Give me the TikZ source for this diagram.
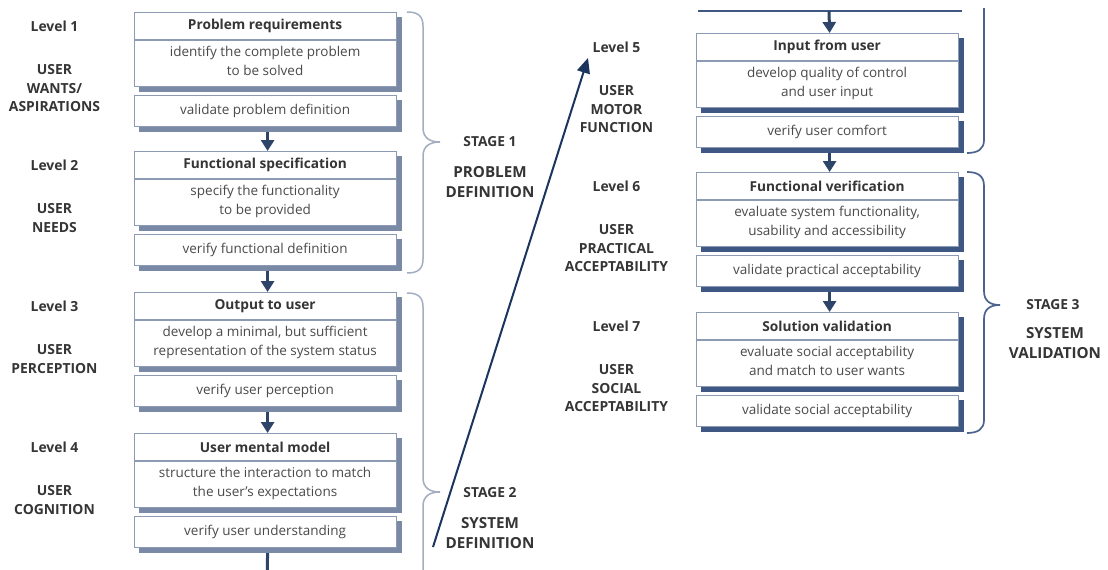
\documentclass[tikz,border=0pt]{standalone}
\usepackage{fontspec}
\setmainfont{Open Sans}
\usetikzlibrary{arrows.meta,backgrounds,calc}
\definecolor{txt}{HTML}{353535}
\definecolor{desctxt}{HTML}{4A4A4A}
\definecolor{boxline}{HTML}{8C9AB3}
\definecolor{shadL}{HTML}{7A89A6}
\definecolor{shadR}{HTML}{3F5783}
\definecolor{arrowcol}{HTML}{2E4468}
\definecolor{braceL}{HTML}{A3AEC2}
\definecolor{braceR}{HTML}{4C6390}
\definecolor{longcol}{HTML}{1B355E}
\tikzset{
  box/.style={draw=boxline, line width=1.2pt, fill=white, minimum width=262pt,
    inner sep=0pt, align=center, text=desctxt, font=\fontsize{13.5}{18.5}\selectfont},
  titlebox/.style={box, minimum height=27pt, text=txt, font=\bfseries\fontsize{13.7}{18}\selectfont},
  descbox/.style={box, minimum height=46pt,
    execute at begin node={\rule{0pt}{10.5pt}},
    execute at end node={\rule[-5.5pt]{0pt}{5.5pt}}},
  valbox/.style={box, minimum height=31pt},
  lvllab/.style={inner sep=0pt, text=txt, font=\bfseries\fontsize{13.9}{18}\selectfont},
  userlab/.style={inner sep=0pt, align=center, text=txt, font=\bfseries\fontsize{13.9}{18.6}\selectfont},
  stagelab/.style={inner sep=0pt, text=txt, font=\bfseries\fontsize{13.8}{18}\selectfont},
  stagetitle/.style={inner sep=0pt, align=center, text=txt, font=\bfseries\fontsize{15.2}{20}\selectfont},
  flow/.style={draw=arrowcol, line width=3pt, -{Triangle[length=11pt,width=13pt]}},
  longarrow/.style={draw=longcol, line width=2pt, -{Triangle[length=15pt,width=13pt]}},
  bracel/.style={draw=braceL, line width=1.5pt},
  bracer/.style={draw=braceR, line width=1.7pt}
}
\newcommand{\lvlblock}[9]{%
  \node[titlebox, anchor=north west] (#1t) at (#2,#3) {#4};
  \node[descbox, anchor=north] (#1d) at (#1t.south) {#5};
  \node[valbox, anchor=north] (#1v) at ([yshift=-7.5pt]#1d.south) {#6};
  \begin{scope}[on background layer]
    \fill[#7] ([shift={(5pt,-5pt)}]#1t.north west) rectangle ([shift={(5pt,-5pt)}]#1d.south east);
    \fill[#7] ([shift={(5pt,-5pt)}]#1v.north west) rectangle ([shift={(5pt,-5pt)}]#1v.south east);
  \end{scope}
  \node[lvllab] (#1l) at ({#2-79},{#3+14}) {#8};
  \node[userlab, anchor=north] (#1u) at ({#2-79},{#3+52.3}) {#9};
}
\begin{document}
\begin{tikzpicture}[x=1pt,y=-1pt]
\path[use as bounding box] (0,0) rectangle (1108,570);
\begin{scope}[on background layer]
  \fill[white] (0,0) rectangle (1108,570);
\end{scope}
\clip (0,0) rectangle (1108,570);

% left column
\lvlblock{A}{133.5}{12}{Problem requirements}{identify the complete problem\\to be solved}{validate problem definition}{shadL}{Level 1}{USER\\WANTS/\\ASPIRATIONS}
\lvlblock{B}{133.5}{151}{Functional specification}{specify the functionality\\to be provided}{verify functional definition}{shadL}{Level 2}{USER\\NEEDS}
\lvlblock{C}{133.5}{292}{Output to user}{develop a minimal, but sufficient\\representation of the system status}{verify user perception}{shadL}{Level 3}{USER\\PERCEPTION}
\lvlblock{D}{133.5}{433}{User mental model}{structure the interaction to match\\the user's expectations}{verify user understanding}{shadL}{Level 4}{USER\\COGNITION}

% right column
\lvlblock{E}{695.5}{33}{Input from user}{develop quality of control\\and user input}{verify user comfort}{shadR}{Level 5}{USER\\MOTOR\\FUNCTION}
\lvlblock{F}{695.5}{172}{Functional verification}{evaluate system functionality,\\usability and accessibility}{validate practical acceptability}{shadR}{Level 6}{USER\\PRACTICAL\\ACCEPTABILITY}
\lvlblock{G}{695.5}{312}{Solution validation}{evaluate social acceptability\\and match to user wants}{validate social acceptability}{shadR}{Level 7}{USER\\SOCIAL\\ACCEPTABILITY}

% flow arrows
\draw[flow] ([shift={(2.5pt,-5pt)}]Av.south) -- ([xshift=2.5pt]Bt.north);
\draw[flow] ([shift={(2.5pt,-5pt)}]Bv.south) -- ([xshift=2.5pt]Ct.north);
\draw[flow] ([shift={(2.5pt,-5pt)}]Cv.south) -- ([xshift=2.5pt]Dt.north);
\coordinate (Dend) at (267,582);
\draw[flow] ([shift={(2.5pt,-5pt)}]Dv.south) -- (Dend);

\coordinate (topL) at (698,11);
\coordinate (topR) at (962,11);
\coordinate (topA) at (829,11);
\draw[draw=shadR, line width=1.5pt] (topL) -- (topR);
\draw[flow] (topA) -- ([xshift=2.5pt]Et.north);
\draw[flow] ([shift={(2.5pt,-5pt)}]Ev.south) -- ([xshift=2.5pt]Ft.north);
\draw[flow] ([shift={(2.5pt,-5pt)}]Fv.south) -- ([xshift=2.5pt]Gt.north);

% long arrow
\coordinate (ls) at (433,547);
\coordinate (le) at (588,58);
\draw[longarrow] (ls) -- (le);

% braces
\draw[bracel] (407,12) .. controls (418,12) and (423,16) .. (423,26) -- (423,128)
  .. controls (423,138) and (430,142) .. (440,142)
  .. controls (430,142) and (423,146) .. (423,156) -- (423,259)
  .. controls (423,269) and (418,273) .. (407,273);
\draw[bracel] (407,293) .. controls (418,293) and (423,297) .. (423,307) -- (423,478)
  .. controls (423,488) and (430,492) .. (440,492)
  .. controls (430,492) and (423,496) .. (423,506) -- (423,580);
\draw[bracer] (984,8) -- (984,140) .. controls (984,149) and (978,153) .. (967,153);
\draw[bracer] (967,172) .. controls (978,172) and (984,176) .. (984,186) -- (984,291)
  .. controls (984,301) and (990,305) .. (1000,305)
  .. controls (990,305) and (984,309) .. (984,319) -- (984,420)
  .. controls (984,429) and (978,433) .. (967,433);

% stage labels
\node[stagelab] (s1) at (490,142) {STAGE 1};
\node[stagetitle] (s1t) at (490,182) {PROBLEM\\DEFINITION};
\node[stagelab] (s2) at (490,493) {STAGE 2};
\node[stagetitle] (s2t) at (490,533.5) {SYSTEM\\DEFINITION};
\node[stagelab] (s3) at (1053,305) {STAGE 3};
\node[stagetitle] (s3t) at (1055,343) {SYSTEM\\VALIDATION};
\end{tikzpicture}
\end{document}
